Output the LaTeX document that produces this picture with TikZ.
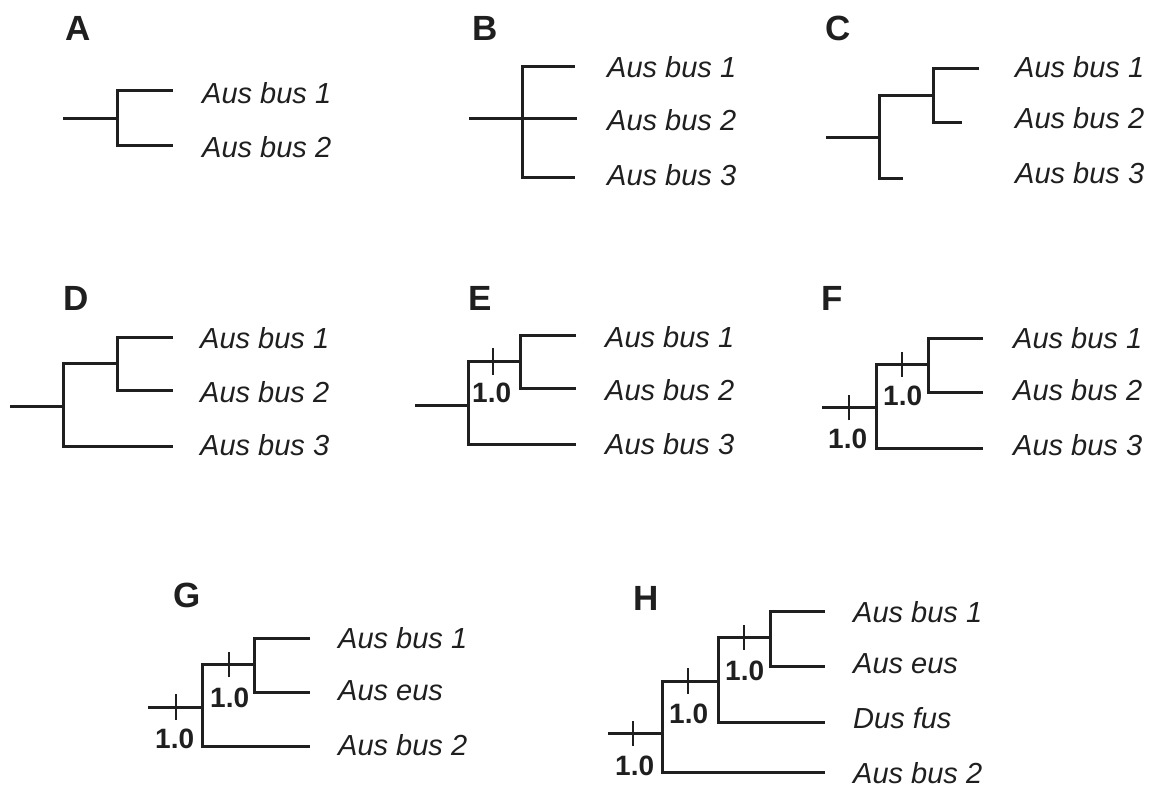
\documentclass[tikz,border=0pt]{standalone}
\usepackage{fontspec}
\setmainfont{Liberation Sans}
\begin{document}
\begin{tikzpicture}[x=1pt,y=-1pt,
  br/.style={line width=3pt,line join=miter,color=black!88},
  tk/.style={line width=2pt,color=black!88},
  sp/.style={anchor=base west,inner sep=0pt,text=black!88,font=\fontsize{29}{29}\selectfont\itshape},
  pl/.style={anchor=base west,inner sep=0pt,text=black!88,font=\fontsize{35}{35}\selectfont\bfseries},
  supp/.style={anchor=base west,inner sep=0pt,text=black!88,font=\fontsize{28}{28}\selectfont\bfseries}]
\useasboundingbox (0,0) rectangle (1150,787);
% ---------- A
\node[pl] (lA) at (65,40) {A};
\draw[br] (63,118) -- (117,118);
\draw[br] (173,90) -- (117,90) -- (117,145) -- (173,145);
\node[sp] (A1) at (202,103) {Aus bus 1};
\node[sp] (A2) at (202,157) {Aus bus 2};
% ---------- B
\node[pl] (lB) at (472,40) {B};
\draw[br] (469,118) -- (577,118);
\draw[br] (575,66) -- (522,66) -- (522,177) -- (575,177);
\node[sp] (B1) at (607,77) {Aus bus 1};
\node[sp] (B2) at (607,130) {Aus bus 2};
\node[sp] (B3) at (607,185) {Aus bus 3};
% ---------- C
\node[pl] (lC) at (825,40) {C};
\draw[br] (826,137) -- (879,137);
\draw[br] (933,95) -- (879,95) -- (879,178) -- (903,178);
\draw[br] (979,68) -- (933,68) -- (933,122) -- (962,122);
\node[sp] (C1) at (1015,77) {Aus bus 1};
\node[sp] (C2) at (1015,128) {Aus bus 2};
\node[sp] (C3) at (1015,183) {Aus bus 3};
% ---------- D
\node[pl] (lD) at (63,310) {D};
\draw[br] (10,406) -- (63,406);
\draw[br] (117,363) -- (63,363) -- (63,446) -- (173,446);
\draw[br] (173,337) -- (117,337) -- (117,390) -- (173,390);
\node[sp] (D1) at (200,348) {Aus bus 1};
\node[sp] (D2) at (200,402) {Aus bus 2};
\node[sp] (D3) at (200,455) {Aus bus 3};
% ---------- E
\node[pl] (lE) at (468,310) {E};
\draw[br] (415,405) -- (468,405);
\draw[br] (520,361) -- (468,361) -- (468,444) -- (576,444);
\draw[br] (576,335) -- (520,335) -- (520,388) -- (576,388);
\draw[tk] (493,348) -- (493,375);
\node[supp] (Es) at (472,402) {1.0};
\node[sp] (E1) at (605,347) {Aus bus 1};
\node[sp] (E2) at (605,400) {Aus bus 2};
\node[sp] (E3) at (605,454) {Aus bus 3};
% ---------- F
\node[pl] (lF) at (821,310) {F};
\draw[br] (822,407) -- (876,407);
\draw[br] (928,364) -- (876,364) -- (876,448) -- (983,448);
\draw[br] (983,338) -- (928,338) -- (928,392) -- (983,392);
\draw[tk] (902,352) -- (902,377);
\draw[tk] (849,395) -- (849,420);
\node[supp] (Fs1) at (883,405) {1.0};
\node[supp] (Fs2) at (828,448) {1.0};
\node[sp] (F1) at (1013,348) {Aus bus 1};
\node[sp] (F2) at (1013,400) {Aus bus 2};
\node[sp] (F3) at (1013,455) {Aus bus 3};
% ---------- G
\node[pl] (lG) at (173,607) {G};
\draw[br] (148,707) -- (202,707);
\draw[br] (254,664) -- (202,664) -- (202,746) -- (310,746);
\draw[br] (310,638) -- (254,638) -- (254,692) -- (310,692);
\draw[tk] (229,652) -- (229,677);
\draw[tk] (176,694) -- (176,720);
\node[supp] (Gs1) at (210,707) {1.0};
\node[supp] (Gs2) at (155,748) {1.0};
\node[sp] (G1) at (338,648) {Aus bus 1};
\node[sp] (G2) at (338,700) {Aus eus};
\node[sp] (G3) at (338,755) {Aus bus 2};
% ---------- H
\node[pl] (lH) at (633,610) {H};
\draw[br] (608,733) -- (662,733);
\draw[br] (718,681) -- (662,681) -- (662,772) -- (825,772);
\draw[br] (770,637) -- (718,637) -- (718,722) -- (825,722);
\draw[br] (825,611) -- (770,611) -- (770,666) -- (825,666);
\draw[tk] (744,625) -- (744,650);
\draw[tk] (688,668) -- (688,694);
\draw[tk] (633,721) -- (633,746);
\node[supp] (Hs1) at (725,680) {1.0};
\node[supp] (Hs2) at (669,723) {1.0};
\node[supp] (Hs3) at (615,775) {1.0};
\node[sp] (H1) at (853,622) {Aus bus 1};
\node[sp] (H2) at (853,673) {Aus eus};
\node[sp] (H3) at (853,728) {Dus fus};
\node[sp] (H4) at (853,783) {Aus bus 2};
\end{tikzpicture}
\end{document}
